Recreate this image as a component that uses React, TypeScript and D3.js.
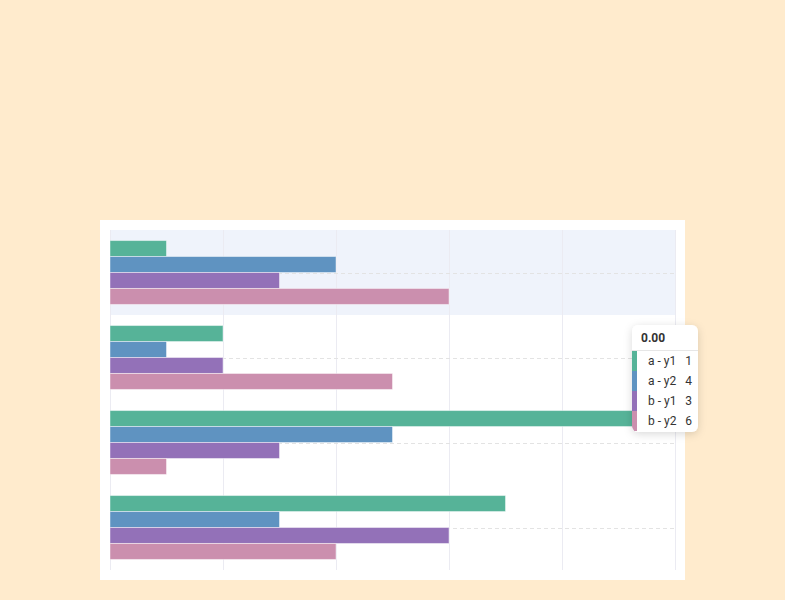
import React from "react";
import * as d3 from "d3";

const categories = [0, 1, 2, 3];
const seriesNames = ["a - y1", "a - y2", "b - y1", "b - y2"];
const seriesA1 = [1, 2, 10, 7];
const seriesA2 = [4, 1, 5, 3];
const seriesB1 = [3, 2, 3, 6];
const seriesB2 = [6, 5, 1, 4];
const xTicks = [0, 2, 4, 6, 8, 10];
const colors = ["#56b398", "#5f93c1", "#9371b8", "#cb8fae"];
const highlighted = 0;

export default function App() {
  const W = 785, H = 600;
  const panel = { x: 100, y: 220, w: 585, h: 360 };
  const plot = { left: 110, right: 675, top: 230, bottom: 570 };
  const series = [seriesA1, seriesA2, seriesB1, seriesB2];

  const x = d3.scaleLinear().domain([0, 10]).range([plot.left, plot.right]);
  const y = d3.scaleBand<number>().domain(categories).range([plot.top, plot.bottom]).padding(0);
  const inner = d3
    .scaleBand<number>()
    .domain(d3.range(series.length))
    .range([0, y.bandwidth()])
    .paddingInner(0)
    .paddingOuter(0.66);

  const tip = { x: 632, y: 325, w: 66, h: 107 };
  const font = "Roboto, 'Noto Sans', sans-serif";

  return (
    <svg width={W} height={H} style={{ position: "absolute", left: 0, top: 0 }}>
      <defs>
        <filter id="shadow" x="-50%" y="-50%" width="200%" height="200%">
          <feDropShadow dx="0" dy="2" stdDeviation="4" floodColor="#000" floodOpacity="0.15" />
        </filter>
        <clipPath id="tipclip">
          <rect x={tip.x} y={tip.y} width={tip.w} height={tip.h} rx={6} />
        </clipPath>
      </defs>
      <rect x={0} y={0} width={W} height={H} fill="#ffebcd" />
      <rect x={panel.x} y={panel.y} width={panel.w} height={panel.h} fill="#ffffff" />
      {/* highlight band */}
      <rect
        x={plot.left}
        y={y(categories[highlighted])!}
        width={plot.right - plot.left}
        height={y.bandwidth()}
        fill="#eff3fb"
      />
      {/* vertical grid */}
      {xTicks.map((t) => (
        <line
          key={"g" + t}
          x1={x(t) + 0.5}
          x2={x(t) + 0.5}
          y1={plot.top}
          y2={plot.bottom}
          stroke="#ebebf2"
          strokeWidth={1}
        />
      ))}
      {/* dashed category lines */}
      {categories.map((c) => (
        <line
          key={"d" + c}
          x1={plot.left}
          x2={plot.right}
          y1={Math.round(y(c)! + y.bandwidth() / 2) + 0.5}
          y2={Math.round(y(c)! + y.bandwidth() / 2) + 0.5}
          stroke="#e3e3e3"
          strokeDasharray="4,3"
        />
      ))}
      {/* bars */}
      {categories.map((c, ci) =>
        series.map((s, si) => (
          <rect
            key={ci + "-" + si}
            x={x(0)}
            y={y(c)! + inner(si)!}
            width={x(s[ci]) - x(0)}
            height={inner.bandwidth()}
            fill={colors[si]}
            stroke="rgba(255,255,255,0.45)"
            strokeWidth={1}
          />
        ))
      )}
      {/* tooltip */}
      <g>
        <rect x={tip.x} y={tip.y} width={tip.w} height={tip.h} rx={6} fill="#fff" filter="url(#shadow)" />
        <text x={641} y={342} fontFamily={font} fontSize={12} fontWeight="bold" fill="#333">
          {d3.format(".2f")(categories[highlighted])}
        </text>
        <line x1={tip.x} x2={tip.x + tip.w} y1={350.5} y2={350.5} stroke="#e6e6e6" />
        <g clipPath="url(#tipclip)">
          {seriesNames.map((n, i) => (
            <rect key={"c" + n} x={tip.x} y={351 + i * 20} width={5} height={20} fill={colors[i]} />
          ))}
        </g>
        {seriesNames.map((n, i) => (
          <g key={"t" + n}>
            <text x={648} y={365 + i * 20} fontFamily={font} fontSize={12} fill="#333">
              {n}
            </text>
            <text x={692} y={365 + i * 20} fontFamily={font} fontSize={12} fill="#333" textAnchor="end">
              {series[i][highlighted]}
            </text>
          </g>
        ))}
      </g>
    </svg>
  );
}
